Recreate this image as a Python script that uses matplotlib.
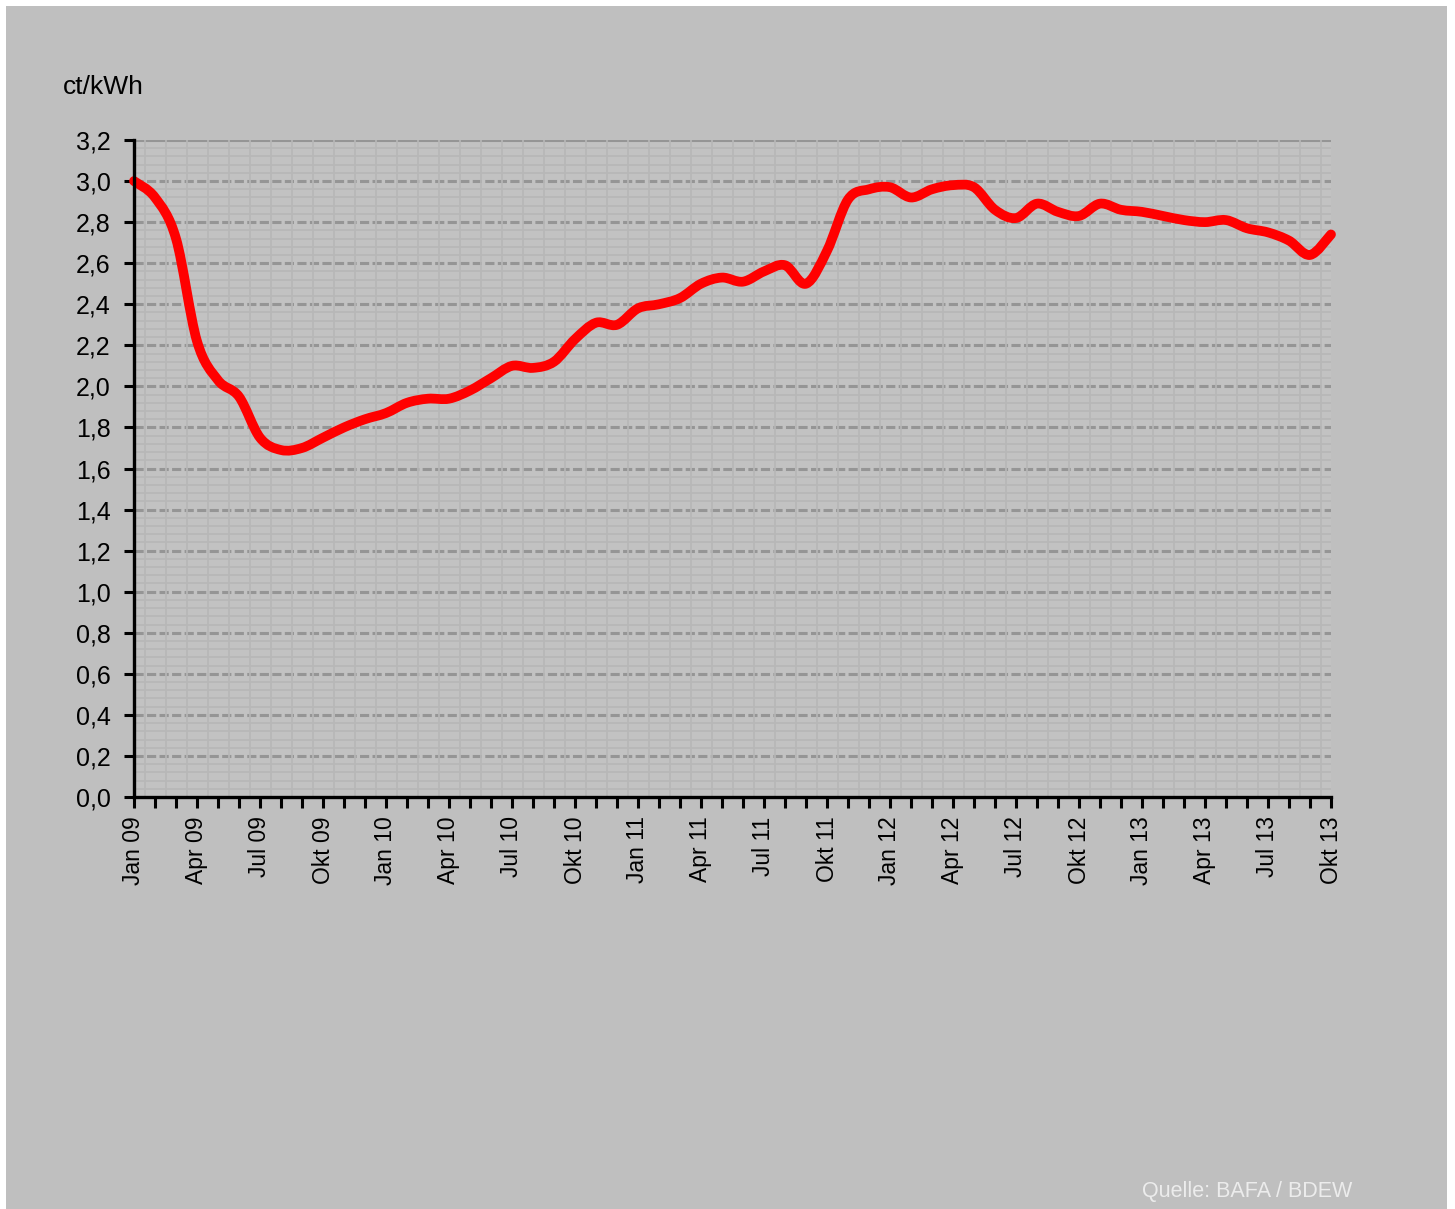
import numpy as np
import matplotlib
matplotlib.use('Agg')
import matplotlib.pyplot as plt
from matplotlib.path import Path
from matplotlib.patches import PathPatch, Rectangle
from matplotlib.ticker import FuncFormatter, MultipleLocator

plt.rcParams['font.family'] = ['Liberation Sans', 'DejaVu Sans']

# monthly price, Jan 09 .. Okt 13 (ct/kWh)
months = ['Jan', 'Feb', 'Mrz', 'Apr', 'Mai', 'Jun', 'Jul', 'Aug', 'Sep', 'Okt', 'Nov', 'Dez']
years = ['09', '10', '11', '12', '13']
price = [3.00, 2.92, 2.72, 2.22, 2.03, 1.95, 1.75, 1.69, 1.70, 1.75, 1.80, 1.84,
         1.87, 1.92, 1.94, 1.94, 1.98, 2.04, 2.10, 2.09, 2.12, 2.23, 2.31, 2.30,
         2.38, 2.40, 2.43, 2.50, 2.53, 2.51, 2.56, 2.59, 2.50, 2.66, 2.91, 2.96,
         2.97, 2.92, 2.96, 2.98, 2.97, 2.86, 2.82, 2.89, 2.85, 2.83, 2.89, 2.86,
         2.85, 2.83, 2.81, 2.80, 2.81, 2.77, 2.75, 2.71, 2.64, 2.74]
labels = [m + ' ' + y for y in years for m in months][:len(price)]

BG = '#bfbfbf'

fig = plt.figure(figsize=(14.55, 12.09), dpi=100, facecolor='white')
fig.patches.append(Rectangle((6 / 1455, 0), 1441 / 1455, 1 - 6 / 1209,
                             transform=fig.transFigure, facecolor=BG,
                             edgecolor='none', zorder=-10))

ax = fig.add_axes([134 / 1455, 1 - 797 / 1209, 1197 / 1455, 657 / 1209])
ax.set_facecolor('#c2c2c2')

x = np.arange(len(price))
y = np.array(price)

# smooth line (catmull-rom as bezier segments, like excel's smoothed line)
pts = np.column_stack([x, y])
ext = np.vstack([pts[0], pts, pts[-1]])
verts = [pts[0]]
codes = [Path.MOVETO]
for i in range(len(pts) - 1):
    p0, p1, p2, p3 = ext[i], ext[i + 1], ext[i + 2], ext[i + 3]
    verts += [p1 + (p2 - p0) / 6, p2 - (p3 - p1) / 6, p2]
    codes += [Path.CURVE4] * 3
ax.add_patch(PathPatch(Path(verts, codes), facecolor='none', edgecolor='#ff0000',
                       lw=7, capstyle='round', joinstyle='round', zorder=5,
                       clip_on=False))

ax.set_xlim(0, len(price) - 1)
ax.set_ylim(0, 3.2)

# grid
ax.xaxis.set_minor_locator(MultipleLocator(0.5))
ax.yaxis.set_minor_locator(MultipleLocator(0.04))
ax.grid(which='minor', color='#b7b7b7', lw=1.2, zorder=0)
for v in np.arange(0.2, 3.21, 0.2):
    ax.axhline(v, color='#959595', lw=2.2, ls=(0, (3.0, 1.1)) if v < 3.1 else '-',
               zorder=1)
ax.tick_params(which='minor', length=0)

for s in ['top', 'right']:
    ax.spines[s].set_visible(False)
for s in ['left', 'bottom']:
    ax.spines[s].set_linewidth(2.4)
    ax.spines[s].set_zorder(6)

ax.set_yticks(np.arange(0, 3.21, 0.2))
ax.yaxis.set_major_formatter(FuncFormatter(lambda v, p: f'{v:.1f}'.replace('.', ',')))
ax.set_xticks(x)
ax.set_xticklabels([l if i % 3 == 0 else '' for i, l in enumerate(labels)],
                   rotation=90)
ax.tick_params(axis='both', which='major', width=2.2, length=7, color='black')
ax.tick_params(axis='y', pad=10, labelsize=18)
ax.tick_params(axis='x', length=8, pad=6, labelsize=16.5)

fig.text(63 / 1455, 1 - 87 / 1209, 'ct/kWh', fontsize=19, va='center', ha='left')
fig.text(1352 / 1455, 1 - 1192 / 1209, 'Quelle: BAFA / BDEW', fontsize=15.5,
         color='#ececec', va='center', ha='right')

fig.savefig('out.png', dpi=100, facecolor=fig.get_facecolor())
